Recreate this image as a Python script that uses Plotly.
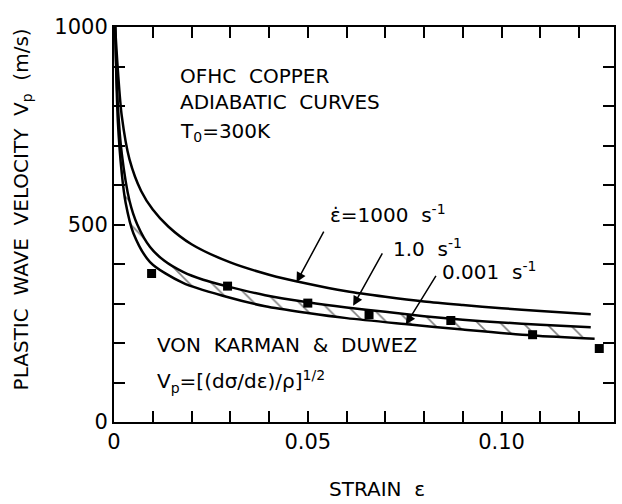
import plotly.graph_objects as go

# ---- data ----
strain_1000 = [0.0003, 0.001, 0.002, 0.004, 0.007, 0.010, 0.014, 0.020, 0.030, 0.040,
               0.050, 0.060, 0.070, 0.080, 0.090, 0.100, 0.110, 0.123]
vp_1000 = [1000, 890, 775, 665, 585, 538, 495, 450, 404, 373,
           350, 331, 317, 305, 296, 288, 281, 273]

strain_1 = [0.0003, 0.001, 0.002, 0.004, 0.006, 0.0093, 0.013, 0.0178, 0.023, 0.029,
            0.039, 0.050, 0.060, 0.070, 0.080, 0.090, 0.100, 0.110, 0.123]
vp_1 = [1000, 800, 680, 560, 500, 443, 408, 380, 360, 344,
        321, 303, 290, 279, 268, 259, 252, 246, 240]

strain_0001 = [0.0003, 0.001, 0.002, 0.003, 0.005, 0.0093, 0.0178, 0.029, 0.039, 0.050,
               0.060, 0.075, 0.090, 0.108, 0.124]
vp_0001 = [1000, 760, 630, 555, 478, 405, 352, 317, 293, 276,
           263, 248, 234, 219, 211]

exp_strain = [0.0097, 0.0293, 0.050, 0.0658, 0.0869, 0.108, 0.1252]
exp_vp = [376, 344, 301, 272, 257, 221, 186]

x_tickvals = [0.00, 0.01, 0.02, 0.03, 0.04, 0.05, 0.06, 0.07, 0.08, 0.09, 0.10, 0.11, 0.12]
x_ticktext = ["0", "", "", "", "", "0.05", "", "", "", "", "0.10", "", ""]
y_tickvals = [0, 100, 200, 300, 400, 500, 600, 700, 800, 900, 1000]
y_ticktext = ["0", "", "", "", "", "500", "", "", "", "", "1000"]

FONT = "DejaVu Sans"
fig = go.Figure()

# lower edge of band (0.001 s^-1)
fig.add_trace(go.Scatter(x=strain_0001, y=vp_0001, mode="lines",
                         line=dict(color="black", width=2.5, shape="spline", smoothing=0.8),
                         showlegend=False, hoverinfo="skip"))
# upper edge of band (1.0 s^-1), hatched fill down to previous trace
fig.add_trace(go.Scatter(x=strain_1, y=vp_1, mode="lines", fill="tonexty",
                         fillcolor="white",
                         fillpattern=dict(shape="\\", size=16, solidity=0.1,
                                          fgcolor="black", bgcolor="white"),
                         line=dict(color="black", width=2.5, shape="spline", smoothing=0.8),
                         showlegend=False, hoverinfo="skip"))
# 1000 s^-1
fig.add_trace(go.Scatter(x=strain_1000, y=vp_1000, mode="lines",
                         line=dict(color="black", width=2.5, shape="spline", smoothing=0.8),
                         showlegend=False, hoverinfo="skip"))
# experimental points
fig.add_trace(go.Scatter(x=exp_strain, y=exp_vp, mode="markers",
                         marker=dict(symbol="square", size=9, color="black"),
                         showlegend=False, cliponaxis=False))

ann_font = dict(family=FONT, size=20, color="black")
texts = [
    (0.0165, 877, "OFHC\u00a0\u00a0COPPER"),
    (0.0165, 809, "ADIABATIC\u00a0\u00a0CURVES"),
    (0.0165, 735, "T<sub>0</sub>=300K"),
    (0.0106, 196, "VON\u00a0\u00a0KARMAN\u00a0\u00a0&\u00a0\u00a0DUWEZ"),
    (0.0106, 103, "V<sub>p</sub>=[(dσ/dε)/ρ]<sup>1/2</sup>"),
    (0.0551, 527, "ε\u0307=1000\u00a0\u00a0s<sup>-1</sup>"),
    (0.0715, 440, "1.0\u00a0\u00a0s<sup>-1</sup>"),
    (0.0841, 382, "0.001\u00a0\u00a0s<sup>-1</sup>"),
]
for x, y, t in texts:
    fig.add_annotation(x=x, y=y, xref="x", yref="y", text=t, showarrow=False,
                       xanchor="left", yanchor="middle", font=ann_font)

arrows = [(0.0471, 354, 28, -52), (0.0617, 294, 30, -54), (0.0753, 247, 31, -50)]
for x, y, ax, ay in arrows:
    fig.add_annotation(x=x, y=y, xref="x", yref="y", text="", showarrow=True,
                       ax=ax, ay=ay, axref="pixel", ayref="pixel",
                       arrowhead=2, arrowsize=1.3, arrowwidth=1.5, arrowcolor="black")

# y-axis title
fig.add_annotation(x=-0.185, y=0.537, xref="paper", yref="paper",
                   text="PLASTIC\u00a0\u00a0WAVE\u00a0\u00a0VELOCITY\u00a0\u00a0V<sub>p</sub>\u00a0\u00a0(m/s)",
                   textangle=-90, showarrow=False, xanchor="center", yanchor="middle",
                   font=dict(family=FONT, size=20, color="black"))
# x-axis title
fig.add_annotation(x=0.525, y=-0.17, xref="paper", yref="paper",
                   text="STRAIN\u00a0\u00a0ε", showarrow=False,
                   xanchor="center", yanchor="middle",
                   font=dict(family=FONT, size=20, color="black"))

axis_common = dict(showline=True, linecolor="black", linewidth=2, mirror="allticks",
                   ticks="inside", ticklen=11, tickwidth=1.5, tickcolor="black",
                   showgrid=False, zeroline=False,
                   tickfont=dict(family=FONT, size=21, color="black"))

fig.update_xaxes(range=[0, 0.129], tickmode="array", tickvals=x_tickvals,
                 ticktext=x_ticktext, **axis_common)
fig.update_yaxes(range=[0, 1000], tickmode="array", tickvals=y_tickvals,
                 ticktext=y_ticktext, **axis_common)

fig.update_layout(width=622, height=504, autosize=False,
                  margin=dict(l=114, r=6, t=27, b=82),
                  paper_bgcolor="white", plot_bgcolor="white",
                  font=dict(family=FONT, color="black"))

fig.write_html("out.html")
